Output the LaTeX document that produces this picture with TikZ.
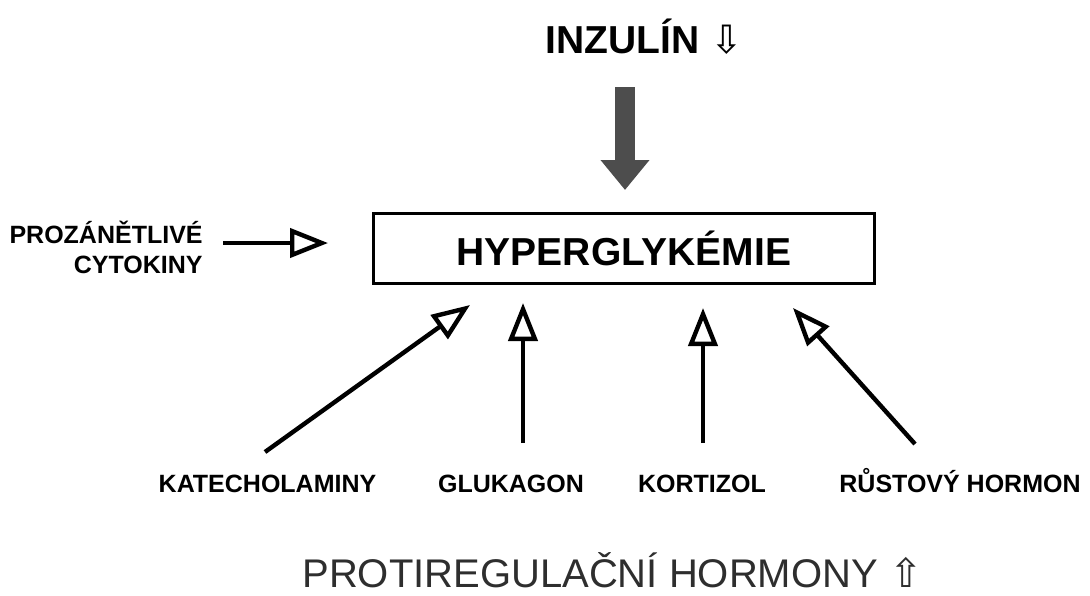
\documentclass[tikz,border=0pt]{standalone}
\usepackage{fontspec}
\setmainfont{Liberation Sans}
\newfontfamily\symfont{DejaVu Sans}
\usepackage{tikz}
\usetikzlibrary{arrows.meta,calc}
\definecolor{arrowgray}{HTML}{4D4D4D}
\definecolor{textgray}{HTML}{2E2E2E}

\begin{document}
\begin{tikzpicture}[
  x = 0.5pt, y = -0.5pt,
  box/.style   = {rectangle, draw, line width=1.5pt, minimum width=250.5pt, minimum height=35pt, inner sep=0pt,
                  font=\fontsize{19.5}{23}\selectfont\bfseries},
  head/.style  = {inner sep=0pt, anchor=base, font=\fontsize{19.5}{23}\selectfont\bfseries},
  lbl/.style   = {inner sep=0pt, anchor=base, font=\fontsize{12.5}{15}\selectfont\bfseries},
  arr/.style   = {-{Triangle[open, length=19pt, width=14.5pt]}, line width=2.2pt},
  big/.style   = {-{Triangle[length=15pt, width=23.5pt]}, line width=10pt, draw=arrowgray}
]
\useasboundingbox (0,0) rectangle (1090,595);
\node[box] (hyper) at (624,248.5) {HYPERGLYKÉMIE};
\node[head] (inz) at (644.5,53) {INZULÍN {\symfont\mdseries ⇩}};
\node[lbl, align=right, anchor=base east] (cyt) at (203,273) {PROZÁNĚTLIVÉ\\CYTOKINY};
\node[lbl] (kat)  at (267.5,492) {KATECHOLAMINY};
\node[lbl] (glu)  at (511,492)   {GLUKAGON};
\node[lbl] (kor)  at (702,492)   {KORTIZOL};
\node[lbl] (rust) at (960,492)   {RŮSTOVÝ HORMON};
\node[head, font=\fontsize{20}{24}\selectfont, text=textgray] (prot) at (612.5,587)
  {PROTIREGULAČNÍ HORMONY {\symfont ⇧}};
% inflows into the box
\draw[big] ($(inz.base)+(-19.5,34)$)     -- ($(hyper.north)+(1,-22)$);
\draw[arr] ($(cyt.base east)+(20,-30)$)  -- ($(hyper.west)+(-44,-5.5)$);
\draw[arr] ($(kat.base)+(-2.5,-40)$)     -- ($(hyper.south)+(-154,20)$);
\draw[arr] ($(glu.base)+(12,-49)$)       -- ($(hyper.south)+(-101,18)$);
\draw[arr] ($(kor.base)+(1,-49)$)        -- ($(hyper.south)+(79,23)$);
\draw[arr] ($(rust.base)+(-45,-48)$)     -- ($(hyper.south)+(169,23)$);
\end{tikzpicture}
\end{document}
